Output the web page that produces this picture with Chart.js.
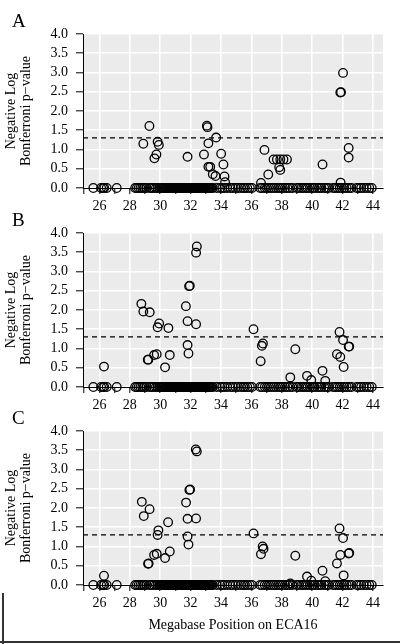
<!DOCTYPE html>
<html>
<head>
<meta charset="utf-8">
<script src="https://cdn.jsdelivr.net/npm/chart.js@4.4.1/dist/chart.umd.min.js"></script>
<style>
  body { margin: 0; background: #fff; }
  #wrap { position: relative; width: 400px; height: 644px; overflow: hidden; }
  canvas { position: absolute; left: 0; }
  #frameL { position: absolute; left: 2px; top: 593px; width: 2px; height: 51px; background: #333; }
  #frameB { position: absolute; left: 0; top: 641px; width: 400px; height: 2px; background: #333; }
</style>
</head>
<body>
<div id="wrap">
  <canvas id="chartA" width="400" height="220" style="top:0"></canvas>
  <canvas id="chartB" width="400" height="220" style="top:199px"></canvas>
  <canvas id="chartC" width="400" height="247" style="top:397px"></canvas>
  <div id="frameL"></div>
  <div id="frameB"></div>
</div>
<script>
// axis settings
const xMin = 24.92;
const xMax = 44.66;
const xTickVals = [25, 26, 27, 28, 29, 30, 31, 32, 33, 34, 35, 36, 37, 38, 39, 40, 41, 42, 43, 44];
const xLabels = [26, 28, 30, 32, 34, 36, 38, 40, 42, 44];
const yTickVals = [0, 0.5, 1, 1.5, 2, 2.5, 3, 3.5, 4];
const threshold = 1.3;

// markers sitting on 0 (same in all panels)
const zeroPos = [
  25.60, 26.11, 26.24, 26.32, 26.48, 27.14,
  28.35, 28.46, 28.58, 28.70, 28.82, 28.95, 29.10, 29.32, 29.45, 29.58, 29.72, 29.84, 29.97,
  30.03, 30.08, 30.12, 30.17, 30.22, 30.29, 30.33, 30.38, 30.44, 30.51, 30.55, 30.60, 30.66, 30.72,
  30.77, 30.81, 30.87, 30.93, 30.98, 31.04, 31.09, 31.13, 31.19, 31.26, 31.30, 31.35, 31.41, 31.47,
  31.52, 31.58, 31.62, 31.66, 31.72, 31.79, 31.83, 31.88, 31.94, 32.01, 32.05, 32.10, 32.16, 32.22,
  32.27, 32.33, 32.37, 32.41, 32.48, 32.54, 32.58, 32.63, 32.69, 32.75, 32.80, 32.86, 32.91, 32.97,
  33.02, 33.08, 33.13, 33.19, 33.25, 33.31, 33.38, 33.46,
  33.72, 33.95, 34.09, 34.23, 34.41, 34.62, 34.78, 34.96, 35.12, 35.31, 35.47, 35.58, 35.73, 35.90, 36.04,
  36.58, 36.71, 36.88, 37.02, 37.16, 37.30, 37.47, 37.62, 37.77, 37.91, 38.06, 38.22, 38.37, 38.53, 38.70,
  38.98, 39.12, 39.29, 39.41, 39.57, 39.70, 39.86, 40.02, 40.15, 40.33, 40.47, 40.61, 40.79, 40.93, 41.08,
  41.38, 41.52, 41.67, 41.81, 41.96, 42.12, 42.27, 42.43, 42.58,
  42.93, 43.08, 43.22, 43.40, 43.58, 43.76, 43.92
];

// panel A
const aPos = [29.29, 28.89, 29.83, 29.91, 29.75, 29.62, 31.80, 33.07, 33.11, 33.68, 33.17, 32.88, 34.01,
  33.17, 33.29, 34.16, 33.46, 33.64, 34.23, 34.27, 36.86, 37.11, 36.63,
  37.46, 37.68, 37.90, 38.11, 38.34, 37.83, 37.90, 40.68, 42.03, 41.85, 41.90, 42.40, 42.40, 41.87];
const aVal = [1.61, 1.15, 1.20, 1.12, 0.87, 0.77, 0.81, 1.62, 1.58, 1.31, 1.16, 0.87, 0.89,
  0.55, 0.55, 0.61, 0.36, 0.31, 0.30, 0.15, 0.99, 0.35, 0.13,
  0.74, 0.74, 0.74, 0.74, 0.74, 0.54, 0.47, 0.61, 2.99, 2.48, 2.49, 1.04, 0.79, 0.14];

// panel B
const bPos = [26.30, 28.76, 28.89, 29.31, 29.93, 29.83, 30.54, 29.18, 29.22, 29.60, 29.77, 30.32, 30.63,
  31.69, 31.80, 32.36, 31.80, 31.86, 31.90, 31.95, 32.41, 32.36, 36.14, 36.76, 36.69, 36.61,
  38.89, 38.56, 39.66, 39.94, 40.68, 40.86, 41.80, 42.03, 42.40, 42.44, 41.63, 41.85, 42.07];
const bVal = [0.53, 2.16, 1.96, 1.94, 1.65, 1.55, 1.53, 0.71, 0.71, 0.83, 0.85, 0.51, 0.83,
  2.10, 1.71, 1.63, 1.09, 0.87, 2.62, 2.63, 3.65, 3.49, 1.50, 1.13, 1.07, 0.67,
  0.98, 0.25, 0.29, 0.18, 0.42, 0.16, 1.43, 1.22, 1.05, 1.05, 0.85, 0.78, 0.52];

// panel C
const cPos = [26.30, 28.79, 28.92, 29.30, 30.52, 29.88, 29.83, 29.20, 29.24, 29.60, 29.77, 30.32, 30.63,
  31.70, 31.80, 32.36, 31.80, 31.86, 31.92, 31.97, 32.34, 32.41, 36.14, 36.74, 36.80, 36.63,
  38.89, 38.56, 39.66, 39.94, 40.68, 40.86, 41.80, 42.03, 42.40, 42.44, 41.63, 41.85, 42.07];
const cVal = [0.24, 2.16, 1.79, 1.97, 1.63, 1.42, 1.30, 0.55, 0.56, 0.78, 0.81, 0.70, 0.87,
  2.14, 1.72, 1.73, 1.26, 1.05, 2.47, 2.48, 3.52, 3.47, 1.34, 1.00, 0.94, 0.80,
  0.76, 0.04, 0.22, 0.11, 0.37, 0.10, 1.47, 1.22, 0.82, 0.83, 0.56, 0.78, 0.25];

const serif = "'Liberation Serif', 'Times New Roman', serif";

// grauer Hintergrund + Buchstabe oben links
const panelDecor = {
  id: "panelDecor",
  beforeDraw(chart, args, opts) {
    const { ctx, chartArea: a } = chart;
    ctx.save();
    ctx.fillStyle = "#ebebeb";
    ctx.fillRect(a.left, a.top, a.right - a.left, a.bottom - a.top);
    ctx.fillStyle = "#000";
    ctx.font = "19px " + serif;
    ctx.textBaseline = "alphabetic";
    ctx.fillText(opts.letter, 12, 27);
    ctx.restore();
  }
};

function makePanel(id, letter, pos, val, showXTitle) {
  const canvas = document.getElementById(id);
  const H = canvas.height;
  const points = zeroPos.map(x => ({ x: x, y: 0 }))
    .concat(pos.map((x, i) => ({ x: x, y: val[i] })));

  return new Chart(canvas, {
    type: "scatter",
    data: {
      datasets: [
        {
          data: points,
          pointRadius: 4.3,
          pointBorderWidth: 1.3,
          borderColor: "#000",
          backgroundColor: "rgba(0,0,0,0)",
          clip: false
        },
        {
          data: [{ x: xMin, y: threshold }, { x: xMax, y: threshold }],
          showLine: true,
          borderColor: "#000",
          borderWidth: 1.2,
          borderDash: [5, 4],
          pointRadius: 0
        }
      ]
    },
    options: {
      responsive: false,
      animation: false,
      layout: { padding: { top: 34, left: 0, right: 17, bottom: 0 } },
      plugins: {
        legend: { display: false },
        tooltip: { enabled: false },
        panelDecor: { letter: letter }
      },
      scales: {
        x: {
          type: "linear",
          min: xMin,
          max: xMax,
          afterBuildTicks: s => { s.ticks = xTickVals.map(v => ({ value: v })); },
          afterFit: s => { s.height = H - 34 - 154; },
          ticks: {
            autoSkip: false,
            maxRotation: 0,
            padding: 4,
            color: "#000",
            font: { family: serif, size: 14 },
            callback: v => xLabels.includes(v) ? String(v) : ""
          },
          grid: {
            color: c => (c.tick && xLabels.includes(c.tick.value)) ? "#fff" : "rgba(0,0,0,0)",
            lineWidth: 1.6,
            tickColor: "#000",
            tickLength: 6,
            tickWidth: 1
          },
          border: { display: true, color: "#000", width: 1 },
          title: {
            display: showXTitle,
            text: "Megabase Position on ECA16",
            color: "#000",
            font: { family: serif, size: 14 },
            padding: { top: 0, bottom: 10 }
          }
        },
        y: {
          min: 0,
          max: 4,
          afterBuildTicks: s => { s.ticks = yTickVals.map(v => ({ value: v })); },
          afterFit: s => { s.width = 83; },
          ticks: {
            autoSkip: false,
            padding: 8,
            color: "#000",
            font: { family: serif, size: 14 },
            callback: v => Number(v).toFixed(1)
          },
          grid: {
            color: "#fff",
            lineWidth: 1.6,
            tickColor: "#000",
            tickLength: 7,
            tickWidth: 1
          },
          border: { display: true, color: "#000", width: 1 },
          title: {
            display: true,
            text: ["Negative Log", "Bonferroni p\u2212value"],
            color: "#000",
            font: { family: serif, size: 14, lineHeight: "15px" },
            padding: { top: 4, bottom: 0 }
          }
        }
      }
    },
    plugins: [panelDecor]
  });
}

makePanel("chartA", "A", aPos, aVal, false);
makePanel("chartB", "B", bPos, bVal, false);
makePanel("chartC", "C", cPos, cVal, true);
</script>
</body>
</html>
